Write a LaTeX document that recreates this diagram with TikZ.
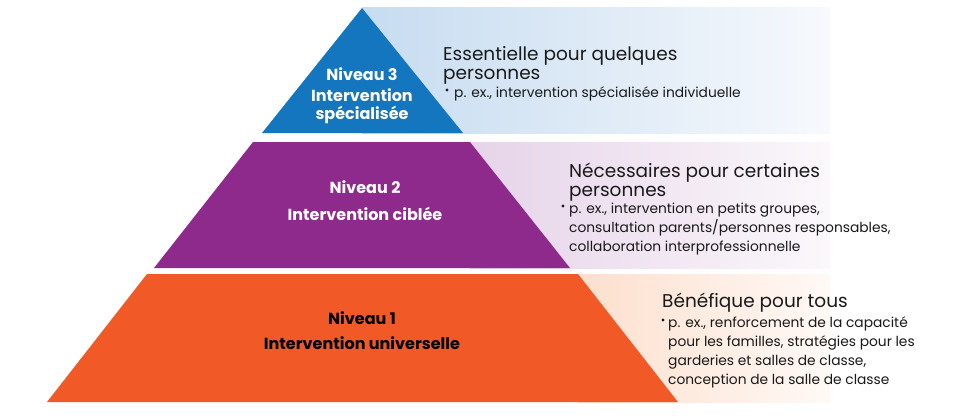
\documentclass[tikz,border=0pt]{standalone}
\usepackage{fontspec}
\setmainfont{Poppins}
\definecolor{c3}{HTML}{1476BE}
\definecolor{c2}{HTML}{8E2A8C}
\definecolor{c1}{HTML}{F15A27}
\definecolor{b3}{HTML}{C6DCF0}
\definecolor{b3r}{HTML}{F7F9FD}
\definecolor{b2}{HTML}{E6D3E9}
\definecolor{b2r}{HTML}{FBF8FB}
\definecolor{b1}{HTML}{FDDFCD}
\definecolor{b1r}{HTML}{FFF9F6}
\definecolor{txt}{HTML}{1A1A1A}
\begin{document}
\begin{tikzpicture}[x=1pt,y=-1pt,
  lvl/.style={font=\fontsize{16}{19}\selectfont\bfseries, align=center, inner sep=0pt},
  head/.style={font=\fontsize{18.5}{19}\selectfont, text=txt, anchor=base west, inner sep=0pt},
  body/.style={font=\fontsize{13.8}{19}\selectfont, text=txt, anchor=base west, inner sep=0pt},
  bul/.style={circle, fill=txt, inner sep=0pt, minimum size=3.2pt}]
\useasboundingbox (0,0) rectangle (975,420);
\fill[white] (0,0) rectangle (975,420);
% bands
\shade[left color=b3, right color=b3r] (362,8) rectangle (830,133);
\shade[left color=b2, right color=b2r] (470,142) rectangle (830,268);
\shade[left color=b1, right color=b1r] (578,274) rectangle (830,402);
% pyramid
\fill[c3] (362,8) -- (463,133) -- (262,133) -- cycle;
\fill[c2] (253,142) -- (470,142) -- (570,268) -- (154,268) -- cycle;
\fill[c1] (147,274) -- (578,274) -- (678,402) -- (47,402) -- cycle;
% level labels
\node[lvl, text=white] (n3) at (362,74) {Niveau 3};
\node[lvl, text=white] (i3a) at (362,95) {Intervention};
\node[lvl, text=white] (i3b) at (362,115) {spécialisée};
\node[lvl, text=white] (n2) at (365,187) {Niveau 2};
\node[lvl, text=white] (i2) at (365,214) {Intervention ciblée};
\node[lvl, text=black] (n1) at (362,318) {Niveau 1};
\node[lvl, text=black] (i1) at (362,343) {Intervention universelle};
% level 3 description
\node[head] (h3a) at (443,61) {Essentielle pour quelques};
\node[head] (h3b) at (443,80) {personnes};
\node[bul] (d3b) at (447,90) {};
\node[body] (d3) at (454,97) {p. ex., intervention spécialisée individuelle};
% level 2 description
\node[head] (h2a) at (569,177) {Nécessaires pour certaines};
\node[head] (h2b) at (569,196) {personnes};
\node[bul] (d2b) at (563,206) {};
\node[body] (d2a) at (569,213) {p. ex., intervention en petits groupes,};
\node[body] (d2c) at (569,232) {consultation parents/personnes responsables,};
\node[body] (d2d) at (569,251) {collaboration interprofessionnelle};
% level 1 description
\node[head] (h1a) at (662,307) {Bénéfique pour tous};
\node[bul] (d1b) at (663,320) {};
\node[body] (d1a) at (668,327) {p. ex., renforcement de la capacité};
\node[body] (d1c) at (668,346) {pour les familles, stratégies pour les};
\node[body] (d1d) at (668,365) {garderies et salles de classe,};
\node[body] (d1e) at (668,384) {conception de la salle de classe};
\end{tikzpicture}
\end{document}
